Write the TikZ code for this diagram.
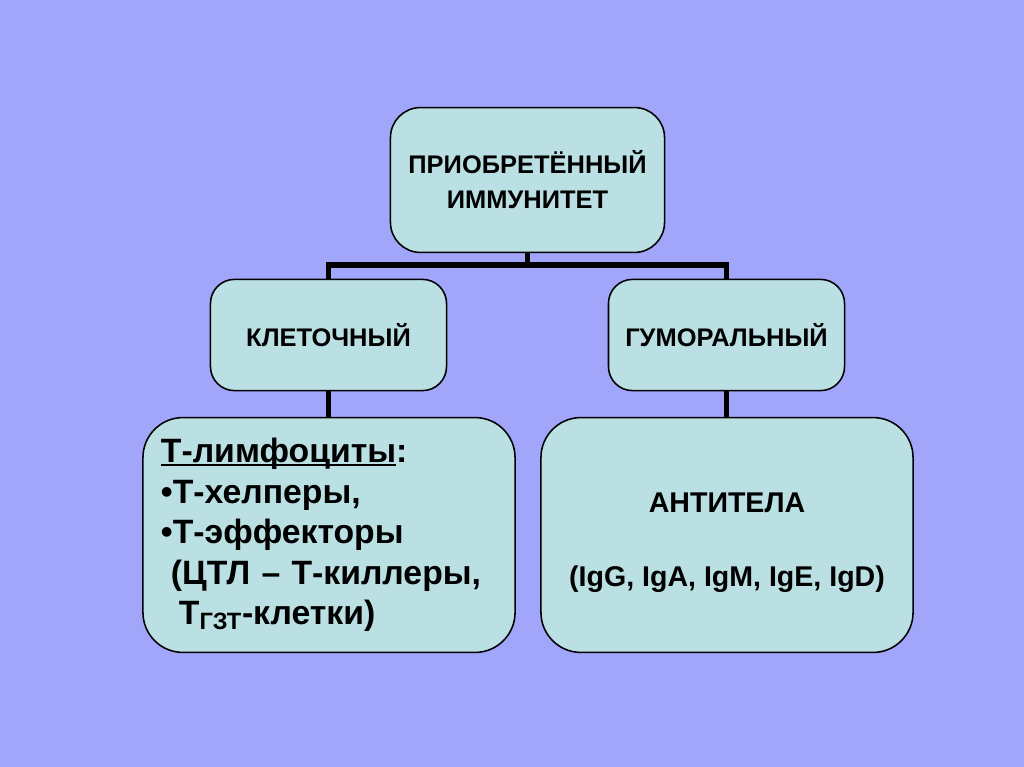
\documentclass[tikz,border=0pt]{standalone}
\usepackage{fontspec}
\setmainfont{Liberation Sans}
\usetikzlibrary{positioning}
\definecolor{slidebg}{RGB}{161,166,250}
\definecolor{boxfill}{RGB}{186,224,227}
\newcommand{\lineunder}[1]{\setbox0\hbox{#1}\rlap{\rule[-2.2pt]{\wd0}{1.3pt}}\box0}
\tikzstyle{conn} = [line width=3.6pt]
\tikzstyle{box} = [rectangle, rounded corners=0.65cm, draw=black, line width=1.1pt, fill=boxfill, outer sep=0pt, align=center, font=\bfseries\fontsize{18.1}{25}\selectfont]
\tikzstyle{topbox} = [box, minimum width=6.85cm, minimum height=3.62cm, rounded corners=0.75cm]
\tikzstyle{midbox} = [box, minimum width=5.9cm, minimum height=2.78cm, rounded corners=0.6cm]
\tikzstyle{bigbox} = [box, minimum width=9.3cm, minimum height=5.87cm, rounded corners=1cm]

\begin{document}
\begin{tikzpicture}[x=0.025cm, y=-0.025cm]

% Background
\fill [slidebg] (0,0) rectangle (1024,767);
\useasboundingbox (0,0) rectangle (1024,767);

% Top level
\node (acq) [topbox] at (527.5,180) {ПРИОБРЕТЁННЫЙ\\ИММУНИТЕТ};

% Second level
\node (cell) [midbox] at (328.5,335) {КЛЕТОЧНЫЙ};
\node (humor) [midbox] at (726.5,335) {ГУМОРАЛЬНЫЙ};

% Third level
\node (tcell) [bigbox, align=left, inner xsep=0.45cm, text width=8.4cm, font=\bfseries\fontsize{24}{28.8}\selectfont] at (329,535) {\lineunder{Т-лимфоциты}:\\\textbullet Т-хелперы,\\\textbullet Т-эффекторы\\\hspace{0.25cm}(ЦТЛ – Т-киллеры,\\\hspace{0.45cm}Т\textsubscript{ГЗТ}-клетки)};
\node (anti) [bigbox, font=\bfseries\fontsize{20.3}{28}\selectfont] at (727,535) {\rule{0pt}{25pt}АНТИТЕЛА\\[0.88cm](IgG, IgA, IgM, IgE, IgD)};

% Connectors
\coordinate (fork) at (527.5,265);
\draw [conn] (acq.south) -- (fork);
\draw [conn] (cell.north) |- (fork) -| (humor.north);
\draw [conn] (cell.south) -- (tcell.north -| cell.south);
\draw [conn] (humor.south) -- (anti.north -| humor.south);

\end{tikzpicture}
\end{document}
